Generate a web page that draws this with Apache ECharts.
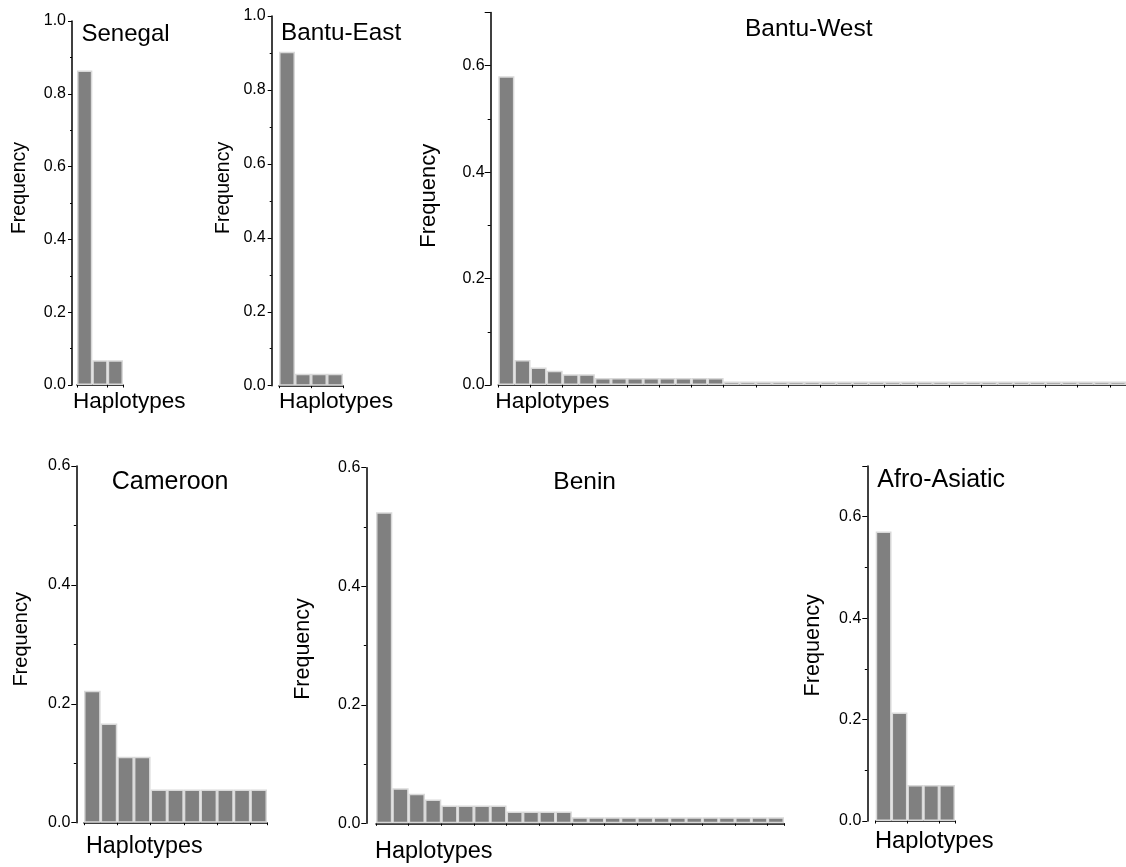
<!DOCTYPE html>
<html>
<head>
<meta charset="utf-8">
<title>Haplotype frequencies</title>
<script src="https://cdn.jsdelivr.net/npm/echarts@6/dist/echarts.min.js"></script>
<style>
  html, body { margin: 0; padding: 0; background: #ffffff; }
  #chart { width: 1126px; height: 867px; }
</style>
</head>
<body>
<div id="chart"></div>
<script>
// Population panels, in drawing order
const populations = ['Senegal', 'Bantu-East', 'Bantu-West', 'Cameroon', 'Benin', 'Afro-Asiatic'];

// Haplotype frequencies per population, most frequent first
const senegal = [0.864, 0.068, 0.068];
const bantuEast = [0.903, 0.032, 0.032, 0.032];
const bantuWest = [
  0.580, 0.047, 0.033, 0.027, 0.020, 0.020,
  0.013, 0.013, 0.013, 0.013, 0.013, 0.013, 0.013, 0.013,
  0.0067, 0.0067, 0.0067, 0.0067, 0.0067, 0.0067, 0.0067, 0.0067, 0.0067, 0.0067,
  0.0067, 0.0067, 0.0067, 0.0067, 0.0067, 0.0067, 0.0067, 0.0067, 0.0067, 0.0067,
  0.0067, 0.0067, 0.0067, 0.0067, 0.0067
];
const cameroon = [0.222, 0.167, 0.111, 0.111, 0.056, 0.056, 0.056, 0.056, 0.056, 0.056, 0.056];
const benin = [
  0.525, 0.059, 0.050, 0.040,
  0.030, 0.030, 0.030, 0.030,
  0.020, 0.020, 0.020, 0.020,
  0.010, 0.010, 0.010, 0.010, 0.010, 0.010, 0.010, 0.010, 0.010, 0.010, 0.010, 0.010, 0.010
];
const afroAsiatic = [0.571, 0.214, 0.071, 0.071, 0.071];

const frequencies = [senegal, bantuEast, bantuWest, cameroon, benin, afroAsiatic];

// Frequency axis ranges and tick step
const yMaxima = [1.0, 1.0, 0.7, 0.6, 0.6, 0.7];
const yStep = 0.2;

const xTitle = 'Haplotypes';
const yTitle = 'Frequency';

// Haplotype identifiers (not printed on the axis)
function haplotypeIds(n) {
  const ids = [];
  for (let i = 1; i <= n; i++) ids.push('H' + i);
  return ids;
}

// Panel placement and text sizing
const layout = [
  { left: 77,    top: 21,    width: 46,  height: 364,   yOff: 5,   tick: 4, minor: 2,
    freqGap: 52,   freqShift: 15,  freqSize: 19.5, hapGap: 4,  hapPad: 5,    hapSize: 22.5,
    titleLeft: 81.5, titleTop: 22,  titleSize: 24 },
  { left: 279,   top: 16,    width: 64,  height: 369.7, yOff: 7.3, tick: 4, minor: 2,
    freqGap: 48.4, freqShift: 13,  freqSize: 19.5, hapGap: 0,  hapPad: 4.6,  hapSize: 22.8,
    titleLeft: 281, titleTop: 21,   titleSize: 24.3 },
  { left: 498.3, top: 12.5,  width: 628, height: 372.5, yOff: 7.6, tick: 6, minor: 3,
    freqGap: 61.7, freqShift: 3,   freqSize: 22,   hapGap: 3,  hapPad: 5.6,  hapSize: 22.8,
    titleLeft: 745, titleTop: 17,   titleSize: 24.5 },
  { left: 84,    top: 466,   width: 183, height: 356.7, yOff: 7.7, tick: 5, minor: 2.5,
    freqGap: 54.6, freqShift: 5,   freqSize: 20,   hapGap: -2, hapPad: 12.4, hapSize: 23.3,
    titleLeft: 111.7, titleTop: 470, titleSize: 25 },
  { left: 376,   top: 467.7, width: 408, height: 355.6, yOff: 9.7, tick: 5, minor: 2.5,
    freqGap: 63,   freqShift: -3.5, freqSize: 21.5, hapGap: 1, hapPad: 16.3, hapSize: 23.5,
    titleLeft: 553.3, titleTop: 469.7, titleSize: 24.5 },
  { left: 875.7, top: 466,   width: 79.3, height: 355,  yOff: 8.4, tick: 5, minor: 2.5,
    freqGap: 54.6, freqShift: -1.8, freqSize: 21.7, hapGap: 0.7, hapPad: 8.8, hapSize: 23.7,
    titleLeft: 877.3, titleTop: 468, titleSize: 25 }
];

const FONT = '"Liberation Sans", Arial, Helvetica, sans-serif';
const INK = '#000000';

function tickLabel(v) {
  const tenths = Math.round(v * 10);
  return tenths % 2 === 0 ? (tenths / 10).toFixed(1) : '';
}

const grids = [], xAxes = [], yAxes = [], series = [], titles = [];

populations.forEach((name, i) => {
  const L = layout[i];
  const values = frequencies[i];

  grids.push({ left: L.left, top: L.top, width: L.width, height: L.height, containLabel: false });

  titles.push({
    text: name,
    left: L.titleLeft,
    top: L.titleTop,
    padding: 0,
    textStyle: { fontFamily: FONT, fontSize: L.titleSize, fontWeight: 'normal', color: INK }
  });

  xAxes.push({
    type: 'category',
    gridIndex: i,
    data: haplotypeIds(values.length),
    boundaryGap: true,
    axisLine: { show: true, lineStyle: { color: INK, width: 1.5 } },
    axisTick: { show: true, length: 2.5, lineStyle: { color: INK, width: 1 } },
    axisLabel: { show: false },
    splitLine: { show: false },
    name: xTitle,
    nameLocation: 'start',
    nameGap: L.hapGap,
    nameTextStyle: {
      fontFamily: FONT, fontSize: L.hapSize, color: INK,
      align: 'left', verticalAlign: 'top', padding: [L.hapPad, 0, 0, 0]
    }
  });

  const shift = L.freqShift;
  yAxes.push({
    type: 'value',
    gridIndex: i,
    min: 0,
    max: yMaxima[i],
    interval: yStep,
    offset: L.yOff,
    axisLine: { show: true, lineStyle: { color: INK, width: 1.5 } },
    axisTick: { show: true, length: L.tick, lineStyle: { color: INK, width: 1 } },
    minorTick: { show: true, splitNumber: 2, length: L.minor, lineStyle: { color: INK, width: 1 } },
    splitLine: { show: false },
    minorSplitLine: { show: false },
    axisLabel: { formatter: tickLabel, fontFamily: FONT, fontSize: 16, color: INK, margin: 6 },
    name: yTitle,
    nameLocation: 'middle',
    nameRotate: 90,
    nameGap: L.freqGap,
    nameTextStyle: {
      fontFamily: FONT, fontSize: L.freqSize, color: INK,
      align: 'center', verticalAlign: 'middle',
      padding: shift >= 0 ? [0, 0, 0, 2 * shift] : [0, -2 * shift, 0, 0]
    }
  });

  series.push({
    type: 'bar',
    name: name,
    xAxisIndex: i,
    yAxisIndex: i,
    data: values,
    barCategoryGap: '0%',
    itemStyle: { color: '#808080', borderColor: '#d9d9d9', borderWidth: 1.5 },
    emphasis: { disabled: true }
  });
});

const chart = echarts.init(document.getElementById('chart'), null, { renderer: 'canvas' });
chart.setOption({
  animation: false,
  backgroundColor: '#ffffff',
  title: titles,
  grid: grids,
  xAxis: xAxes,
  yAxis: yAxes,
  series: series
});
</script>
</body>
</html>
